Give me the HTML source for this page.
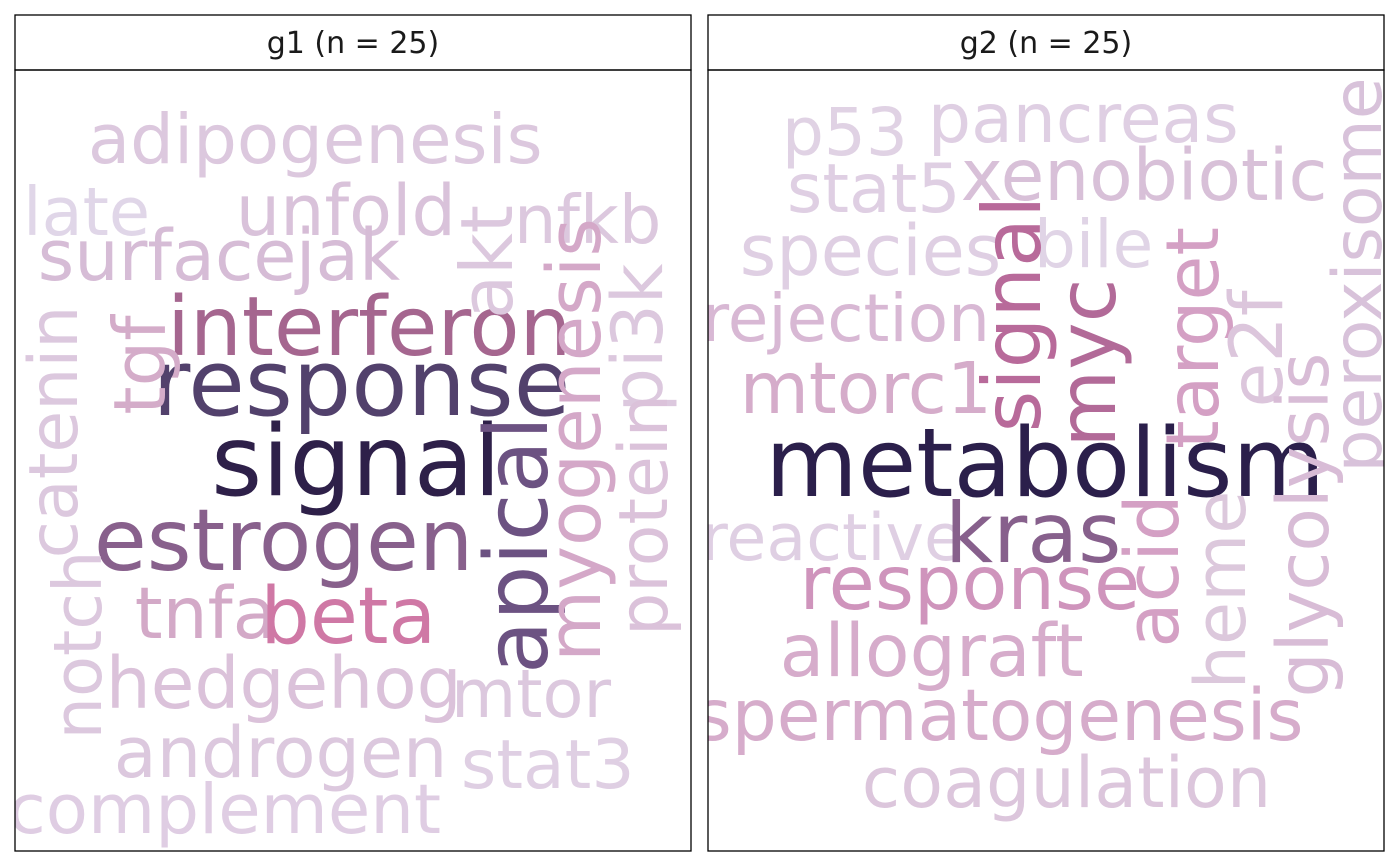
<!DOCTYPE html>
<html><head><meta charset="utf-8">
<style>
html,body{margin:0;padding:0;background:#fff;}
svg{display:block;}
text{font-family:"DejaVu Sans","Liberation Sans",sans-serif;}
</style></head>
<body>
<svg id="chart" width="1400" height="866" viewBox="0 0 1400 866">
  <defs>
    <clipPath id="clip1"><rect x="15" y="70" width="676" height="781"/></clipPath>
    <clipPath id="clip2"><rect x="708" y="70" width="676" height="781"/></clipPath>
  </defs>
  <g>
    <rect x="15" y="15" width="676" height="55" fill="#fff" stroke="#000" stroke-width="1.3"/>
    <text x="353" y="53" font-size="30" text-anchor="middle" fill="#1a1a1a">g1 (n = 25)</text>
    <g id="words1" clip-path="url(#clip1)"></g>
    <rect x="15" y="70" width="676" height="781" fill="none" stroke="#000" stroke-width="1.3"/>
  </g>
  <g>
    <rect x="708" y="15" width="676" height="55" fill="#fff" stroke="#000" stroke-width="1.3"/>
    <text x="1046" y="53" font-size="30" text-anchor="middle" fill="#1a1a1a">g2 (n = 25)</text>
    <g id="words2" clip-path="url(#clip2)"></g>
    <rect x="708" y="70" width="676" height="781" fill="none" stroke="#000" stroke-width="1.3"/>
  </g>
</svg>
<script>
// Panel g1 data
const words1 = ["adipogenesis","late","unfold","nfkb","surface","jak","interferon","response","signal","estrogen","tnfa","beta","hedgehog","mtor","androgen","stat3","complement","akt","apical","myogenesis","pi3k","protein","tgf","catenin","notch"];
const sizes1 = [69,67,70,67,70,71,82,92,98,86,71,78,71,67,70,68,69,72,87,74,70,68,72,68,67];
const colors1 = ["#dcc8de","#e0d6e8","#d9c2da","#dcc8de","#d6bcd6","#d6bcd6","#a5668f","#52416c","#2e2049","#88608c","#d3a9c7","#cf78a5","#dbc2da","#dcc8de","#dcc8de","#dfcfe3","#dfcde3","#dcc8de","#6c5282","#d4a8c8","#dcc8de","#dbc2da","#d4acc9","#dcc8de","#dcc8de"];
const layoutX1 = [92,27,240,518,42,300,172,158,217,99,139,265,110,455,118,465,12,512,547,600,662,667,165,77,101];
const layoutY1 = [163,235,235,243,280,280,355,415,495,570,638,643,708,717,777,788,833,262,545,440,338,515,365,432,645];
const vertical1 = [0,0,0,0,0,0,0,0,0,0,0,0,0,0,0,0,0,1,1,1,1,1,1,1,1];

// Panel g2 data
const words2 = ["p53","pancreas","stat5","xenobiotic","species","bile","rejection","mtorc1","metabolism","reactive","kras","response","allograft","spermatogenesis","coagulation","signal","myc","target","e2f","peroxisome","glycolysis","heme","acid"];
const sizes2 = [66,68,68,71,70,66,66,71,95,65,83,75,73,71,70,80,80,73,73,68,71,70,74];
const colors2 = ["#e0d2e4","#dfcfe3","#dfcfe3","#d8c0d8","#dfcfe3","#e0d4e6","#d8b8d4","#d5acca","#2b1f4b","#dfcfe3","#87608c","#cf94bc","#d6accb","#d6accb","#dcc6dc","#b86a9a","#b26a98","#d4a0c4","#dcc6dc","#d8c2da","#d8bcd6","#dcc8dc","#d4a0c4"];
const layoutX2 = [786,932,791,965,744,1038,706,744,771,705,950,804,784,699,866,1040,1115,1218,1282,1381,1328,1245,1178];
const layoutY2 = [155,142,212,200,275,267,341,413,496,560,562,609,676,740,807,314,363,338,349,275,525,590,571];
const vertical2 = [0,0,0,0,0,0,0,0,0,0,0,0,0,0,0,1,1,1,1,1,1,1,1];

const NS = "http://www.w3.org/2000/svg";
function drawCloud(gid, words, sizes, colors, xs, ys, vert, panel) {
  const g = document.getElementById(gid);
  for (let i = 0; i < words.length; i++) {
    const t = document.createElementNS(NS, "text");
    const s = sizes[i];
    t.setAttribute("font-size", s);
    t.setAttribute("fill", colors[i]);
    if (vert[i]) {
      t.setAttribute("x", xs[i]);
      t.setAttribute("y", ys[i]);
      t.setAttribute("text-anchor", "middle");
      t.setAttribute("transform", "rotate(-90 " + xs[i] + " " + ys[i] + ")");
    } else {
      t.setAttribute("x", xs[i] - 0.06 * s);
      t.setAttribute("y", ys[i]);
    }
    t.textContent = words[i];
    
    
    g.appendChild(t);
  }
}
drawCloud("words1", words1, sizes1, colors1, layoutX1, layoutY1, vertical1, "g1");
drawCloud("words2", words2, sizes2, colors2, layoutX2, layoutY2, vertical2, "g2");
</script>
</body></html>
